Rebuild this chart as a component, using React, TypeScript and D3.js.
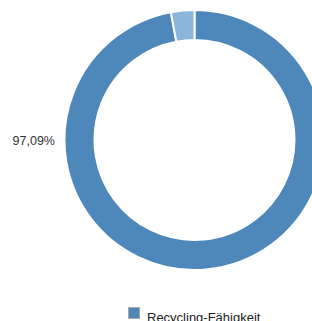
import React from "react";
import * as d3 from "d3";

const categories = ["Recycling-Fähigkeit", "Rest"];
const values = [97.09, 2.91];
const colors = ["#4e88ba", "#8cb5dc"];
const labelText = "97,09%";

export default function App() {
  const W = 312, H = 321;
  const cx = 194.5, cy = 140, rOuter = 130, rInner = 100;
  const pie = d3.pie<number>().sort(null).value((d) => d);
  const arcs = pie(values);
  const arc = d3.arc<d3.PieArcDatum<number>>().innerRadius(rInner).outerRadius(rOuter);
  return (
    <svg width={W} height={H} style={{ position: "fixed", left: 0, top: 0, fontFamily: "Liberation Sans, Arial, sans-serif" }}>
      <rect width={W} height={H} fill="#fff" />
      <g transform={`translate(${cx},${cy})`}>
        {arcs.map((a, i) => (
          <path key={i} d={arc(a) || ""} fill={colors[i]} stroke="#fff" strokeWidth={2} />
        ))}
      </g>
      <text x={55} y={145} textAnchor="end" fontSize={12.5} fill="#333">{labelText}</text>
      <rect x={128.5} y={307.5} width={11} height={11} fill={colors[0]} stroke="#aaa" strokeWidth={1} />
      <text x={147} y={322} fontSize={13} fill="#222">{categories[0]}</text>
    </svg>
  );
}
